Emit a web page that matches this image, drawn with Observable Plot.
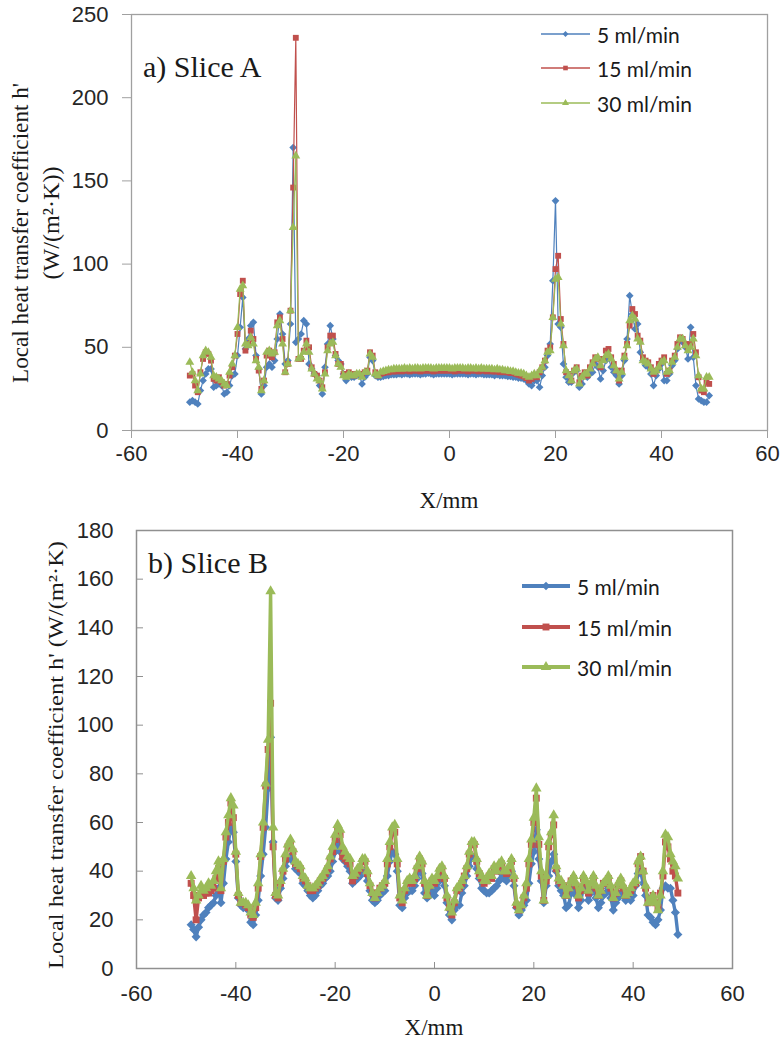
<!DOCTYPE html>
<html><head><meta charset="utf-8">
<script src="https://cdn.jsdelivr.net/npm/d3@7"></script>
<script src="https://cdn.jsdelivr.net/npm/@observablehq/plot@0.6"></script>
<style>
html,body{margin:0;padding:0;background:#fff;}
#wrap{position:relative;width:782px;height:1042px;overflow:hidden;background:#fff;}
#wrap > svg{position:absolute;left:0;}
</style></head><body><div id="wrap"></div>
<script>
// ---------- data ----------
const xMm = [
-49,-48.5,-48,-47.5,-47,-46.5,-46,-45.5,-45,-44.5,
-44,-43.5,-43,-42.5,-42,-41.5,-41,-40.5,-40,-39.5,
-39,-38.5,-38,-37.5,-37,-36.5,-36,-35.5,-35,-34.5,
-34,-33.5,-33,-32.5,-32,-31.5,-31,-30.5,-30,-29.5,
-29,-28.5,-28,-27.5,-27,-26.5,-26,-25.5,-25,-24.5,
-24,-23.5,-23,-22.5,-22,-21.5,-21,-20.5,-20,-19.5,
-19,-18.5,-18,-17.5,-17,-16.5,-16,-15.5,-15,-14.5,
-14,-13.5,-13,-12.5,-12,-11.5,-11,-10.5,-10,-9.5,
-9,-8.5,-8,-7.5,-7,-6.5,-6,-5.5,-5,-4.5,
-4,-3.5,-3,-2.5,-2,-1.5,-1,-0.5,0,0.5,
1,1.5,2,2.5,3,3.5,4,4.5,5,5.5,
6,6.5,7,7.5,8,8.5,9,9.5,10,10.5,
11,11.5,12,12.5,13,13.5,14,14.5,15,15.5,
16,16.5,17,17.5,18,18.5,19,19.5,20,20.5,
21,21.5,22,22.5,23,23.5,24,24.5,25,25.5,
26,26.5,27,27.5,28,28.5,29,29.5,30,30.5,
31,31.5,32,32.5,33,33.5,34,34.5,35,35.5,
36,36.5,37,37.5,38,38.5,39,39.5,40,40.5,
41,41.5,42,42.5,43,43.5,44,44.5,45,45.5,
46,46.5,47,47.5,48,48.5,49];

// Slice A  (x = -49 .. -13.5 | -13 .. 13 | 13.5 .. 49)
const sliceA_5 = [
17,18,17,16,24,30,34,37,37,26, 27,28,27,22,23,27,33,34,45,62, 80,49,55,63,65,45,37,22,27,38, 40,38,42,55,70,58,40,42,64,170, 53,55,58,66,64,40,37,34,33,27, 22,38,52,63,55,45,42,40,34,30, 33,32,32,33,33,28,32,34,44,42, 33,32,
32,32.5,33,33,33.5,33.5,33.5,34,33.5,34, 34,33.5,34,34,34,33.5,34,34,34.5,34, 33.5,34,34,34,34,34,34,33.5,34,34, 34,34,34,33.5,34,34,33.5,34,34,33.5, 33.5,33.5,33.5,33,33.5,33,33,33,32.5,32.5, 32,32,31.5,
31.5,31,30,28,27,30,30,26,33,38, 45,52,90,138,64,62,40,32,29,29, 35,36,26,28,33,32,34,35,40,38, 31,36,42,44,38,35,33,28,33,42, 55,81,70,61,64,47,42,39,38,34, 27,33,37,40,30,30,34,39,42,49, 54,53,50,43,62,44,27,19,18,17, 17,21];
const sliceA_15 = [
33,34,27,23,35,43,47,46,42,31, 30,32,29,27,28,33,38,45,58,82, 90,48,52,60,55,43,36,25,30,45, 48,44,47,65,68,55,35,40,72,146, 236,43,43,48,54,50,38,34,33,30, 26,35,50,57,57,46,40,40,34,33, 35,34,33,34,34,33,35,36,47,45, 35,33,
34,34.5,35,35,35.5,35.5,35.5,36,35.5,36, 36,35.5,36,36,36,35.5,36,36,36,36, 35.5,36,36,36,36,36,36,36,35.5,36, 36,36,36,35.5,36,36,36,35.5,36,36, 35.5,36,35.5,35.5,35.5,35,35.5,35,35,34.5, 34.5,34,33.5,
33,32.5,31.5,30,31,33,32,35,38,42, 48,50,68,97,105,67,52,35,34,30, 36,38,29,33,35,33,38,41,44,43, 38,43,48,49,44,40,36,30,36,45, 52,63,73,70,57,54,44,42,41,38, 34,36,40,42,44,34,36,42,45,52, 56,55,52,50,52,58,47,32,24,23, 29,28];
const sliceA_30 = [
41,35,30,24,34,45,48,47,44,33, 32,31,30,28,27,35,40,45,62,85, 87,52,51,56,52,42,38,24,30,47, 48,46,47,63,66,52,35,40,72,122, 165,43,44,47,52,47,37,34,31,30, 25,34,48,52,53,45,40,38,33,32, 34,33,33,34,34,32,35,35,46,44, 34,33,
35,35.5,36,36.5,36.5,37,37,37,37,37.5, 37,37.5,37,37.5,37.5,37,37.5,37.5,37.5,37.5, 37,37.5,37.5,37.5,37.5,37.5,37.5,37,37.5,37.5, 37.5,37.5,37,37.5,37.5,37,37.5,37,37.5,37, 37,37,37,36.5,37,36.5,36.5,36,36,35.5, 35.5,35,34.5,
34.5,34,33,32,33,34,33,36,38,42, 47,48,68,91,92,64,51,36,33,30, 36,37,28,32,34,34,37,40,43,44, 39,42,45,46,43,39,36,31,35,44, 51,66,69,67,55,53,42,41,40,37, 35,36,38,41,42,35,36,41,44,50, 55,55,51,48,50,55,45,33,25,25, 32,32];

// Slice B
const sliceB_5 = [
18,16,13,17,20,22,23,25,26,27, 30,33,27,35,45,52,58,56,44,29, 26,25,25,24,19,18,22,28,38,47,
58,74,95,52,29,28,33,37,42,45, 46,44,41,40,39,35,34,32,30,29, 30,32,34,35,37,38,40,44,48,52,
48,45,44,42,40,35,36,37,38,40, 40,36,32,28,27,28,30,31,32,38, 44,48,47,40,26,25,29,31,32,32,
34,37,41,39,31,29,30,32,30,33, 36,38,34,27,22,20,24,26,26,31, 34,38,42,46,46,41,37,33,32,31,
31,32,33,34,36,39,37,36,38,40, 34,25,22,24,26,28,35,43,48,57, 45,36,27,34,38,44,47,40,34,32,
30,25,26,31,33,30,25,28,34,32, 28,31,33,29,25,27,30,31,33,29, 24,27,29,31,30,28,29,28,30,34,
39,40,35,30,22,21,19,18,20,24, 33,34,33,33,28,23,14];
const sliceB_15 = [
35,30,20,29,30,30,31,31,32,33, 37,41,32,44,54,60,68,62,47,30, 27,27,26,25,22,21,25,33,46,58,
75,90,109,50,30,29,35,40,45,50, 51,48,43,42,41,37,36,34,32,32, 33,34,36,37,39,41,45,48,53,57,
55,46,45,44,43,36,38,40,41,44, 44,39,34,31,29,31,33,34,35,43, 50,56,56,43,29,27,32,35,36,35,
37,41,45,43,35,30,34,36,35,37, 40,41,37,29,25,22,27,32,33,35, 38,41,47,51,51,44,39,37,35,36,
38,37,41,40,42,43,40,39,41,44, 37,26,24,26,29,33,43,51,60,70, 51,38,28,36,50,55,59,41,36,35,
34,30,33,36,37,34,29,32,37,35, 31,34,37,33,30,32,35,35,37,33, 29,31,34,36,33,30,31,32,34,35,
43,46,40,33,27,28,30,27,25,31, 38,52,50,45,40,38,31];
const sliceB_30 = [
38,33,28,30,34,32,33,35,34,36, 40,44,33,45,56,63,70,67,48,31, 27,27,27,26,23,22,27,35,47,60,
76,94,155,58,31,30,36,41,47,51, 53,49,44,43,42,38,37,34,33,33, 34,35,37,38,40,42,46,50,55,59,
57,50,48,46,45,38,39,41,42,45, 45,40,35,31,29,31,33,34,36,45, 52,58,59,45,30,28,33,36,37,36,
38,42,46,44,36,30,34,37,36,38, 41,42,38,30,25,23,28,33,34,36, 38,42,48,52,52,45,40,38,36,36,
39,38,42,40,43,44,40,40,42,45, 38,27,24,26,30,35,45,53,62,74, 54,40,28,38,52,56,63,42,37,36,
34,30,33,36,38,35,30,33,38,36, 32,35,38,34,30,32,35,36,38,34, 29,31,35,37,34,30,31,33,35,36,
44,46,40,34,27,28,30,27,24,30, 40,55,54,47,44,42,37];

const xTicks = [-60,-40,-20,0,20,40,60];
const yTicksA = [0,50,100,150,200,250];
const yTicksB = [0,20,40,60,80,100,120,140,160,180];
const seriesNames = ["5 ml/min","15 ml/min","30 ml/min"];
const seriesColors = ["#4F81BD","#C0504D","#9BBB59"];
const seriesSymbols = ["diamond2","square","triangle"];
const d3Symbols = [d3.symbolDiamond2, d3.symbolSquare, d3.symbolTriangle];

// ---------- helpers ----------
const TICK_FONT = "'Liberation Sans', Arial, sans-serif";
const SERIF = "'Liberation Serif', 'Times New Roman', serif";
const LEG_FONT = "Lato, 'Open Sans', sans-serif";
const rowsOf = arr => xMm.map((x, i) => ({x, h: arr[i]})).filter(d => d.h != null);

function seriesMarks(arrays, sw, r) {
  const marks = [];
  arrays.forEach((arr, i) => {
    const rows = rowsOf(arr);
    marks.push(Plot.line(rows, {x: "x", y: "h", stroke: seriesColors[i], strokeWidth: sw}));
    marks.push(Plot.dot(rows, {x: "x", y: "h", symbol: seriesSymbols[i], fill: seriesColors[i], r: (i === 0 ? r * 1.05 : r)}));
  });
  return marks;
}

const wrap = document.getElementById("wrap");

// Panel A
const plotA = Plot.plot({
  width: 782, height: 510,
  marginLeft: 131, marginRight: 15, marginTop: 14, marginBottom: 80,
  style: {fontFamily: TICK_FONT, fontSize: "22px", color: "#262626", background: "transparent"},
  x: {domain: [-60, 60]},
  y: {domain: [0, 250]},
  marks: [
    Plot.frame({stroke: "#a0a0a0", strokeWidth: 1.3}),
    Plot.axisX({ticks: xTicks, tickSize: 8, tickPadding: 7, label: null, stroke: "#a0a0a0", fill: "#262626", tickFormat: d => String(d)}),
    Plot.axisY({ticks: yTicksA, tickSize: 9, tickPadding: 14, label: null, stroke: "#a0a0a0", fill: "#262626", tickFormat: d => String(d)}),
    ...seriesMarks([sliceA_5, sliceA_15, sliceA_30], 1.2, 3.3)
  ]
});
plotA.style.top = "0px";
wrap.appendChild(plotA);

// Panel B
const plotB = Plot.plot({
  width: 782, height: 532,
  marginLeft: 136, marginRight: 50, marginTop: 20, marginBottom: 74,
  style: {fontFamily: TICK_FONT, fontSize: "22px", color: "#262626", background: "transparent"},
  x: {domain: [-60, 60]},
  y: {domain: [0, 180]},
  marks: [
    Plot.frame({stroke: "#909090", strokeWidth: 1.5}),
    Plot.axisX({ticks: xTicks, tickSize: -6, tickPadding: 23, label: null, stroke: "#909090", fill: "#262626", tickFormat: d => String(d)}),
    Plot.axisY({ticks: yTicksB, tickSize: -7, tickPadding: 30, label: null, stroke: "#909090", fill: "#262626", tickFormat: d => String(d)}),
    ...seriesMarks([sliceB_5, sliceB_15, sliceB_30], 3.4, 3.9)
  ]
});
plotB.style.top = "510px";
wrap.appendChild(plotB);

// ---------- overlay text & legends ----------
const ov = d3.select(wrap).append("svg")
  .attr("width", 782).attr("height", 1042)
  .style("top", "0px").style("pointer-events", "none");

function label(o) {
  const t = ov.append("text")
    .attr("transform", `translate(${o.x},${o.y})` + (o.rotate ? ` rotate(${o.rotate})` : ""))
    .attr("text-anchor", o.anchor || "start")
    .attr("dominant-baseline", "central")
    .style("font-family", o.font).style("font-size", o.size + "px")
    .attr("fill", o.fill || "#1a1a1a")
    .text(o.text);
  if (o.length) t.attr("textLength", o.length).attr("lengthAdjust", "spacingAndGlyphs");
  return t;
}
function legend(x1, x2, tx, ys, sw, r, size) {
  ys.forEach((y, i) => {
    ov.append("line").attr("x1", x1).attr("x2", x2).attr("y1", y).attr("y2", y)
      .attr("stroke", seriesColors[i]).attr("stroke-width", sw);
    ov.append("path").attr("transform", `translate(${(x1 + x2) / 2},${y})`)
      .attr("d", d3.symbol(d3Symbols[i], Math.PI * r * r)()).attr("fill", seriesColors[i]);
    label({x: tx, y, text: seriesNames[i], font: LEG_FONT, size, fill: "#1a1a1a"});
  });
}

// Panel A texts
label({x: 143, y: 66, text: "a) Slice A", font: SERIF, size: 30});
label({x: 20, y: 233, rotate: -90, anchor: "middle", text: "Local heat transfer coefficient h'", font: SERIF, size: 23, length: 300});
label({x: 51, y: 223, rotate: -90, anchor: "middle", text: "(W/(m²·K))", font: SERIF, size: 23, length: 113});
label({x: 449, y: 500, anchor: "middle", text: "X/mm", font: SERIF, size: 23});
legend(541, 590, 597, [34, 68, 103], 1.3, 2.6, 21);

// Panel B texts
label({x: 148, y: 562, text: "b) Slice B", font: SERIF, size: 30});
label({x: 55, y: 755, rotate: -90, anchor: "middle", text: "Local heat transfer coefficient h' (W/(m²·K)", font: SERIF, size: 22, length: 428});
label({x: 434, y: 1027, anchor: "middle", text: "X/mm", font: SERIF, size: 23});
legend(522, 570, 577, [586, 627, 667], 3.8, 3.9, 21);
</script></body></html>
